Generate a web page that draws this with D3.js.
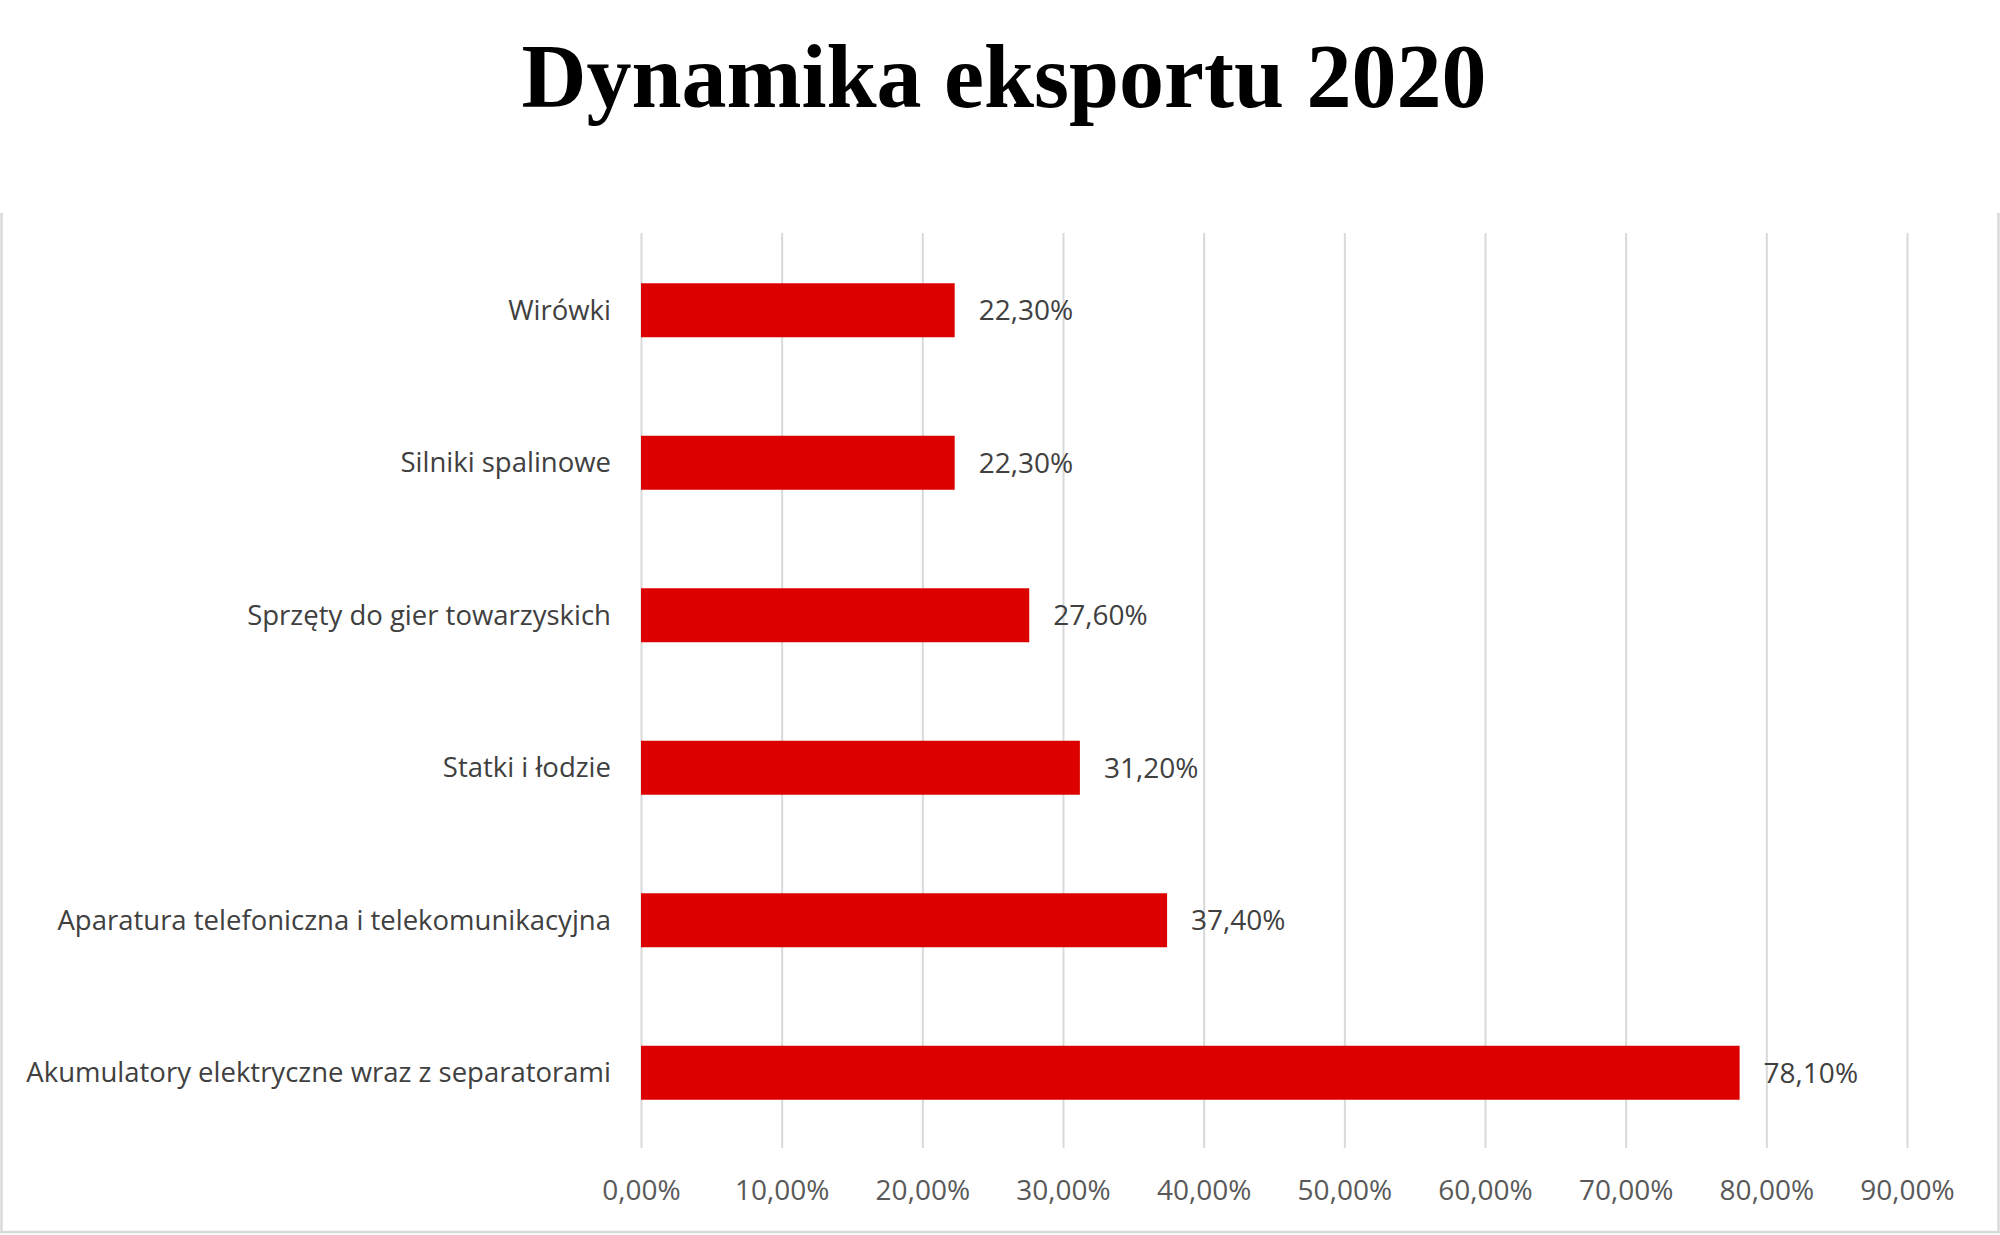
<!DOCTYPE html>
<html>
<head>
<meta charset="utf-8">
<script src="https://cdn.jsdelivr.net/npm/d3@7"></script>
<style>
    body { margin: 0; background: #fff; }
    #chart { width: 2000px; height: 1235px; }
</style>
</head>
<body>
<div id="chart"></div>
<script>
// Data (top to bottom)
const categories = [
    "Wirówki",
    "Silniki spalinowe",
    "Sprzęty do gier towarzyskich",
    "Statki i łodzie",
    "Aparatura telefoniczna i telekomunikacyjna",
    "Akumulatory elektryczne wraz z separatorami"
];
const values = [22.3, 22.3, 27.6, 31.2, 37.4, 78.1];
const xTicks = [0, 10, 20, 30, 40, 50, 60, 70, 80, 90];
const chartTitle = "Dynamika eksportu 2020";

const width = 2000;
const height = 1235;
const margin = { top: 233, right: 93, bottom: 87, left: 641 };

const pct = v => d3.format(".2f")(v).replace(".", ",") + "%";

const svg = d3.select("#chart").append("svg")
    .attr("width", width)
    .attr("height", height)
    .attr("viewBox", [0, 0, width, height]);

// Chart frame (left, right, bottom only - top is cut off under the title)
const frame = svg.append("g")
    .attr("stroke", "#d9d9d9")
    .attr("stroke-width", 2.5);
frame.append("line").attr("x1", 1.5).attr("x2", 1.5).attr("y1", 213).attr("y2", 1233);
frame.append("line").attr("x1", 1998.5).attr("x2", 1998.5).attr("y1", 213).attr("y2", 1233);
frame.append("line").attr("x1", 0).attr("x2", width).attr("y1", 1232).attr("y2", 1232);

// Title
svg.append("text")
    .attr("x", 1004)
    .attr("y", 107)
    .attr("text-anchor", "middle")
    .style("font-family", "'Liberation Serif', 'DejaVu Serif', serif")
    .style("font-weight", "700")
    .style("font-size", "90px")
    .style("fill", "#000")
    .text(chartTitle);

const x = d3.scaleLinear()
    .domain([0, 90])
    .range([margin.left, width - margin.right]);

const y = d3.scaleBand()
    .domain(categories)
    .range([margin.top + 1, height - margin.bottom + 1])
    .paddingInner(0.646)
    .paddingOuter(0.323);

// Vertical gridlines
svg.append("g")
    .attr("transform", `translate(0,${margin.top})`)
    .call(d3.axisBottom(x).tickValues(xTicks).tickSize(height - margin.bottom - margin.top).tickFormat(""))
    .call(g => g.select(".domain").remove())
    .call(g => g.selectAll(".tick line").attr("stroke", "#d9d9d9").attr("stroke-width", 2));

// X axis labels
svg.append("g")
    .attr("transform", `translate(0,${height - margin.bottom})`)
    .call(d3.axisBottom(x).tickValues(xTicks).tickSize(0).tickPadding(0).tickFormat(pct))
    .call(g => g.select(".domain").remove())
    .call(g => g.selectAll(".tick text")
        .attr("dy", null)
        .attr("y", 52)
        .style("font-family", "'Open Sans', sans-serif")
        .style("font-size", "28px")
        .style("fill", "#595959"));

// Bars
svg.append("g")
    .attr("fill", "#dc0000")
    .selectAll("rect")
    .data(values)
    .join("rect")
    .attr("x", x(0))
    .attr("y", (d, i) => y(categories[i]))
    .attr("width", d => x(d) - x(0))
    .attr("height", y.bandwidth());

// Category labels
svg.append("g")
    .selectAll("text")
    .data(categories)
    .join("text")
    .attr("x", margin.left - 30)
    .attr("y", d => y(d) + y.bandwidth() / 2)
    .attr("dy", "0.35em")
    .attr("text-anchor", "end")
    .style("font-family", "'Open Sans', sans-serif")
    .style("font-size", "27.5px")
    .style("fill", "#404040")
    .text(d => d);

// Value labels
svg.append("g")
    .selectAll("text")
    .data(values)
    .join("text")
    .attr("x", d => x(d) + 24)
    .attr("y", (d, i) => y(categories[i]) + y.bandwidth() / 2)
    .attr("dy", "0.35em")
    .style("font-family", "'Open Sans', sans-serif")
    .style("font-size", "28px")
    .style("fill", "#404040")
    .text(d => pct(d));
</script>
</body>
</html>
